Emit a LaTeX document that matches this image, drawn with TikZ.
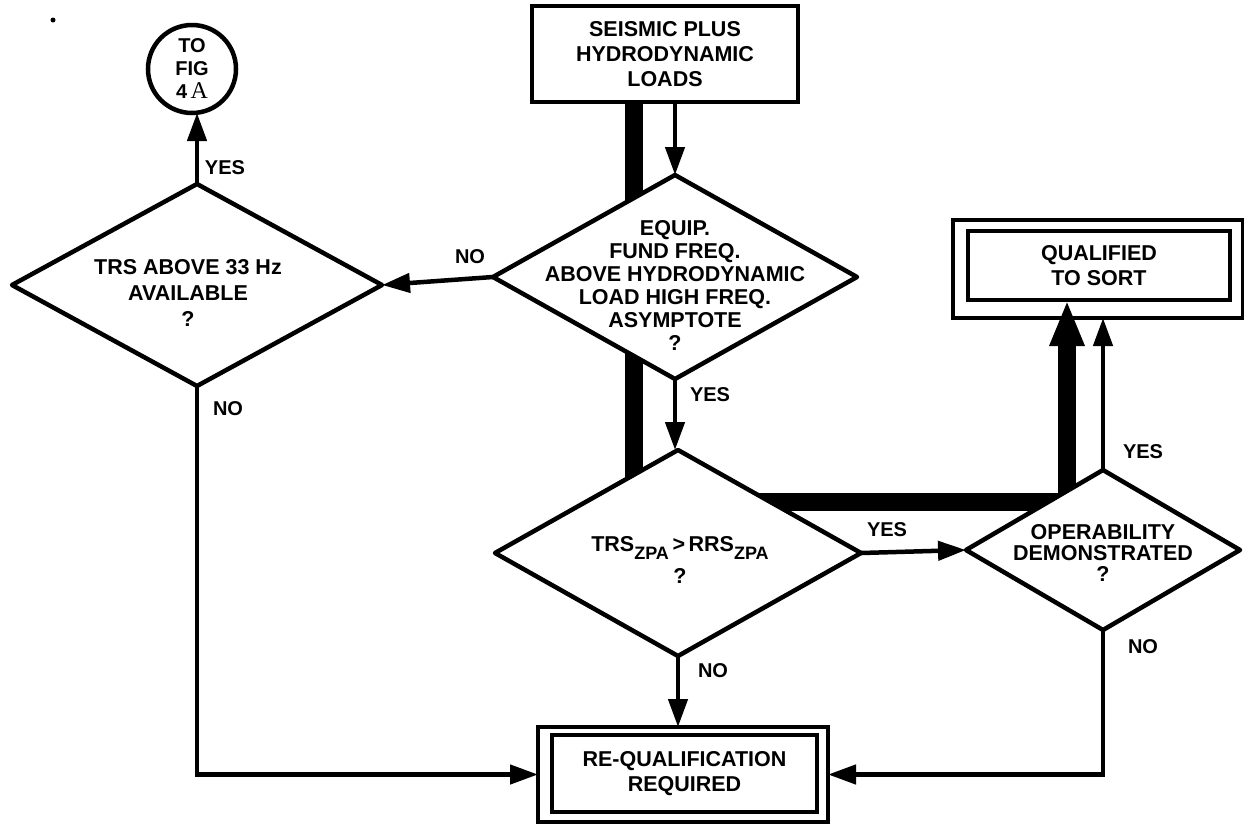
\documentclass[tikz,border=0pt]{standalone}
\usepackage{fontspec}
\setmainfont{Liberation Sans}
\newfontfamily\typedfont{Liberation Serif}
\usetikzlibrary{shapes.geometric,arrows.meta}
\begin{document}
\begin{tikzpicture}[x=1pt,y=-1pt,
  every node/.style={inner sep=0pt, outer sep=0pt},
  lbl/.style={font=\bfseries\fontsize{20}{22}\selectfont},
  txt/.style={font=\bfseries\fontsize{21.5}{25}\selectfont, align=center},
  dtxt/.style={font=\bfseries\fontsize{21.5}{23}\selectfont, align=center},
  box/.style={draw, line width=4.5pt, rectangle, fill=white},
  dia/.style={draw, line width=4.5pt, diamond, fill=white, line join=round},
  arr/.style={line width=4.5pt, -{Triangle[length=28pt,width=19pt]}},
  heavy/.style={line width=18pt, -{Triangle[length=46pt,width=32pt]}},
]
\fill[white] (0,0) rectangle (1244,827);
\useasboundingbox (0,0) rectangle (1244,827);

% stray ink dot
\fill (53,20) circle (2.5pt);

% off-page connector
\node[draw, circle, line width=4.5pt, minimum size=88pt,
      font=\bfseries\fontsize{20}{23}\selectfont, align=center]
  (fig) at (192,69) {TO\\FIG\\4\,{\typedfont\mdseries\fontsize{24}{23}\selectfont A}};

% boxes
\node[box, txt, minimum width=266pt, minimum height=96pt] (top) at (665,54)
  {SEISMIC PLUS\\HYDRODYNAMIC\\LOADS};
\node[box, minimum width=290pt, minimum height=98pt] (qo) at (1098,269) {};
\node[box, txt, minimum width=262pt, minimum height=69pt] (qi) at (1099,265.5)
  {QUALIFIED\\TO SORT};
\node[box, minimum width=290pt, minimum height=95pt] (ro) at (683,774.5) {};
\node[box, txt, minimum width=265pt, minimum height=77pt] (ri) at (684.5,773.5)
  {RE-QUALIFICATION\\REQUIRED};

% heavy path running behind the decisions
\coordinate (hb1) at (634,502);
\coordinate (hb2) at (1067,502);
\draw[heavy] (top.south -| hb1) -- (hb1) -- (hb2) -- (qi.south -| hb2);

% decisions
\node[dia, minimum width=364pt, minimum height=204pt] (d1) at (675,277) {};
\node[dia, minimum width=370pt, minimum height=202pt] (dt) at (197,285) {};
\node[dia, minimum width=366pt, minimum height=206pt] (d2) at (678,553) {};
\node[dia, minimum width=274pt, minimum height=160pt] (d3) at (1103,550) {};

\node[dtxt] at (675,285)
  {EQUIP.\\FUND FREQ.\\ABOVE HYDRODYNAMIC\\LOAD HIGH FREQ.\\ASYMPTOTE\\?};
\node[txt, font=\bfseries\fontsize{21.5}{26}\selectfont] at (188,293)
  {TRS ABOVE 33 Hz\\AVAILABLE\\?};
\node[txt, font=\bfseries\fontsize{21.5}{32}\selectfont] at (680,560)
  {TRS\raisebox{-8pt}{\fontsize{18}{18}\selectfont ZPA}\,>\,RRS\raisebox{-8pt}{\fontsize{18}{18}\selectfont ZPA}\\?};
\node[txt, font=\bfseries\fontsize{21.5}{21}\selectfont] at (1103,553)
  {OPERABILITY\\DEMONSTRATED\\?};

% connectors
\draw[arr] (top.south -| d1.north) -- (d1.north);
\draw[arr] (d1.west) -- (dt.east);
\draw[arr] (dt.north) -- (dt.north |- fig.south);
\draw[arr] (d1.south) -- (d1.south |- d2.north);
\draw[arr] (d2.east) -- (d3.west);
\draw[arr] (d3.north) -- (d3.north |- qo.south);
\draw[arr] (d2.south) -- (d2.south |- ro.north);
\draw[arr] (dt.south) |- (ro.west);
\draw[arr] (d3.south) |- (ro.east);

% branch labels
\node[lbl] at (225,168) {YES};
\node[lbl] at (470,257) {NO};
\node[lbl] at (228,409) {NO};
\node[lbl] at (710,395) {YES};
\node[lbl] at (887,530) {YES};
\node[lbl] at (1143,452) {YES};
\node[lbl] at (713,671) {NO};
\node[lbl] at (1143,647) {NO};
\end{tikzpicture}
\end{document}
